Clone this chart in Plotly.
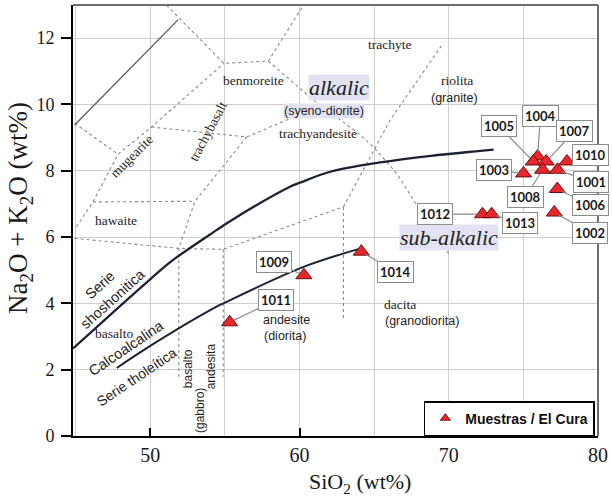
import plotly.graph_objects as go

# --- Samples (El Cura) ---
sample_ids = ["1001", "1002", "1003", "1004", "1005", "1006", "1007",
              "1008", "1009", "1010", "1011", "1012", "1013", "1014"]
sio2 = [77.29, 77.07, 75.01, 75.95, 75.66, 77.27, 76.53,
        76.29, 60.29, 77.92, 55.32, 72.26, 72.87, 64.14]
alkalis = [8.03, 6.74, 7.92, 8.43, 8.28, 7.45, 8.28,
           8.03, 4.85, 8.28, 3.43, 6.69, 6.69, 5.56]

# --- Series dividing curves ---
alkaline_curve_x = [44.82, 49.97, 51.53, 54.44, 55.45, 59.36, 60.03, 62.05, 65.4, 68.8, 72.11, 73.01]
alkaline_curve_y = [2.64, 4.72, 5.31, 6.21, 6.51, 7.52, 7.64, 7.97, 8.25, 8.45, 8.60, 8.64]
tholeiitic_curve_x = [47.75, 49.97, 54.44, 54.89, 60.26, 64.11]
tholeiitic_curve_y = [2.05, 2.71, 3.90, 4.00, 5.10, 5.66]

# --- TAS field boundaries (SiO2, Na2O+K2O) ---
outer_limit = [(44.93, 9.38), (51.87, 12.56)]
benmoreite_top = [(51.09, 12.99), (54.93, 11.24), (57.91, 11.31), (60.26, 12.99)]
trachyte_base = [(57.91, 11.31), (60.93, 10.13), (63.84, 9.17), (64.95, 8.72),
                 (66.52, 7.92), (67.53, 7.21), (68.76, 6.31), (69.99, 5.51)]
mugearite_left = [(44.93, 9.43), (47.84, 8.50)]
mugearite_right = [(45.05, 6.31), (46.16, 7.06), (47.84, 8.50), (50.08, 9.32), (54.93, 11.24)]
hawaite_top = [(46.16, 7.06), (52.99, 7.08)]
trachybasalt_top = [(50.08, 9.32), (56.46, 9.02), (59.14, 9.53), (60.03, 9.71)]
trachybasalt_right = [(56.46, 9.02), (52.99, 7.08), (51.91, 5.66), (51.91, 1.79)]
basalt_top = [(44.93, 5.96), (51.91, 5.66), (54.89, 5.63), (62.94, 6.91)]
andesite_left = [(54.89, 5.63), (54.89, 1.79)]
dacite_left = [(62.94, 6.91), (62.94, 3.55)]
rhyolite_left = [(62.94, 6.91), (66.07, 9.53), (69.54, 11.79)]

fig = go.Figure()

dotted = [benmoreite_top, trachyte_base, mugearite_left, mugearite_right, hawaite_top,
          trachybasalt_top, trachybasalt_right, basalt_top, andesite_left,
          dacite_left, rhyolite_left]
for seg in dotted:
    fig.add_trace(go.Scatter(
        x=[p[0] for p in seg], y=[p[1] for p in seg], mode="lines",
        line=dict(color="#8a8a8a", width=1.1, dash="dot"),
        showlegend=False, hoverinfo="skip"))

fig.add_trace(go.Scatter(
    x=[p[0] for p in outer_limit], y=[p[1] for p in outer_limit], mode="lines",
    line=dict(color="#5a5a5a", width=1.3), showlegend=False, hoverinfo="skip"))

fig.add_trace(go.Scatter(x=alkaline_curve_x, y=alkaline_curve_y, mode="lines",
                         line=dict(color="#1b2333", width=2.3, shape="spline"),
                         showlegend=False, hoverinfo="skip"))
fig.add_trace(go.Scatter(x=tholeiitic_curve_x, y=tholeiitic_curve_y, mode="lines",
                         line=dict(color="#1b2333", width=2.0, shape="spline"),
                         showlegend=False, hoverinfo="skip"))

marker_fill = "#e8262b"
marker_edge = "#6b0f0f"
fig.add_trace(go.Scatter(
    x=sio2, y=alkalis, mode="markers", showlegend=False,
    marker=dict(symbol="triangle-up", size=14, color=marker_fill,
                line=dict(color=marker_edge, width=1)),
    hoverinfo="skip"))
# legend entry with a small symbol
fig.add_trace(go.Scatter(
    x=[None], y=[None], mode="markers", name="<b>Muestras / El Cura</b>",
    marker=dict(symbol="triangle-up", size=9, color=marker_fill,
                line=dict(color=marker_edge, width=0.8))))

# --- Field names ---
serif = "Liberation Serif"
sans = "Liberation Sans"
field_labels = [
    ("trachyte", 66.03, 11.81, serif, 13.5, 0, None, False),
    ("benmoreite", 56.9, 10.73, serif, 13.5, 0, None, False),
    ("riolita", 70.55, 10.73, serif, 13.5, 0, None, False),
    ("(granite)", 70.39, 10.21, sans, 12.5, 0, None, False),
    ("(syeno-diorite)", 61.66, 9.80, sans, 12.5, 0, "#e2e2f2", False),
    ("trachyandesite", 61.26, 9.13, serif, 13.5, 0, None, False),
    ("mugearite", 48.74, 8.42, serif, 13.5, -45, None, False),
    ("trachybasalt", 53.88, 9.17, serif, 13.5, -62, None, False),
    ("hawaite", 47.68, 6.51, serif, 13.5, 0, None, False),
    ("Serie<br>shoshonitica", 47.1, 4.35, sans, 14.5, -42, None, False),
    ("basalto", 47.57, 3.10, serif, 13.5, 0, None, False),
    ("Calcoalcalina", 48.40, 2.64, sans, 14.5, -34, None, False),
    ("Serie tholeítica", 49.07, 1.79, sans, 14, -34, None, False),
    ("basalto", 52.58, 2.04, sans, 12, -90, None, False),
    ("(gabbro)", 53.32, 0.78, sans, 12, -90, None, False),
    ("andesita", 54.04, 2.09, sans, 12, -90, None, False),
    ("andesite", 59.14, 3.50, sans, 12.5, 0, None, False),
    ("(diorita)", 59.03, 3.01, sans, 12.5, 0, None, False),
    ("dacita", 66.74, 3.98, serif, 13.5, 0, None, False),
    ("(granodiorita)", 68.2, 3.48, sans, 12.5, 0, None, False),
    ("alkalic", 62.65, 10.51, serif, 22, 0, "#e2e2f2", True),
    ("sub-alkalic", 70.03, 5.99, serif, 22, 0, "#e2e2f2", True),
]
for text, x, y, fam, size, ang, bg, ital in field_labels:
    fig.add_annotation(
        x=x, y=y, text=f"<i>{text}</i>" if ital else text, showarrow=False,
        textangle=ang, font=dict(family=fam, size=size, color="#1e1e1e"),
        bgcolor=bg if bg else "rgba(0,0,0,0)", borderpad=0)

# --- Sample callouts (pixel offsets of each box from its point) ---
callout_offsets = {
    "1001": (33, 12), "1002": (36, 20), "1003": (-30, -3), "1004": (3, -41),
    "1005": (-34, -35), "1006": (33, 16), "1007": (28, -30), "1008": (-17, 27),
    "1009": (-30, -13), "1010": (24, -6), "1011": (46, -22), "1012": (-47, 0),
    "1013": (28, 9), "1014": (34, 20),
}
for sid, x, y in zip(sample_ids, sio2, alkalis):
    dx, dy = callout_offsets[sid]
    fig.add_annotation(
        x=x, y=y, text=f"<b>{sid}</b>", showarrow=True, ax=dx, ay=dy,
        arrowhead=0, arrowwidth=1.2, arrowcolor="#8c8c8c", standoff=5,
        bgcolor="white", bordercolor="#8c8c8c", borderwidth=1, borderpad=2,
        font=dict(family="Lato", size=13, color="#1a1a1a"))

# --- Axis titles ---
fig.add_annotation(xref="paper", yref="paper", x=0.547, y=-0.109,
                   xanchor="center", yanchor="middle",
                   text="SiO<sub>2</sub> (wt%)", showarrow=False,
                   font=dict(family=serif, size=22, color="#1a1a1a"))
fig.add_annotation(xref="paper", yref="paper", x=-0.101, y=0.529,
                   xanchor="center", yanchor="middle",
                   text="Na<sub>2</sub>O + K<sub>2</sub>O (wt%)", showarrow=False,
                   textangle=-90, font=dict(family=serif, size=27, color="#1a1a1a"))

# top and right frame
fig.add_shape(type="line", xref="paper", yref="paper", x0=0, x1=1, y0=1, y1=1,
              line=dict(color="#6e6e6e", width=2))
fig.add_shape(type="line", xref="paper", yref="paper", x0=1, x1=1, y0=0, y1=1,
              line=dict(color="#6e6e6e", width=2))

grid = "#cdcdcd"
fig.update_layout(
    width=612, height=499,
    margin=dict(l=73, r=14, t=5, b=63),
    plot_bgcolor="white", paper_bgcolor="white",
    font=dict(family=serif, color="#1a1a1a"),
    xaxis=dict(range=[44.82, 80.0], tickvals=[50, 60, 70, 80],
               showgrid=True, gridcolor=grid, gridwidth=1.2, zeroline=False,
               showline=True, linecolor="black", linewidth=2,
               ticks="inside", ticklen=8, tickcolor="black", tickwidth=1.5,
               tickfont=dict(family=serif, size=20),
               minor=dict(dtick=5, tick0=45, showgrid=True, gridcolor=grid,
                          gridwidth=1.2, ticks="")),
    yaxis=dict(range=[0, 13], tickvals=[0, 2, 4, 6, 8, 10, 12],
               showgrid=True, gridcolor=grid, gridwidth=1.2, zeroline=False,
               showline=True, linecolor="black", linewidth=2,
               ticks="outside", ticklen=10, tickcolor="black", tickwidth=1.5,
               ticklabelstandoff=3,
               tickfont=dict(family=serif, size=18)),
    legend=dict(x=0.994, y=0.0, xanchor="right", yanchor="bottom",
                bgcolor="white", bordercolor="black", borderwidth=1.5,
                itemsizing="trace", itemwidth=30, tracegroupgap=0,
                font=dict(family="Liberation Sans", size=14, color="#111111")),
    showlegend=True,
)

fig.write_html("out.html")
